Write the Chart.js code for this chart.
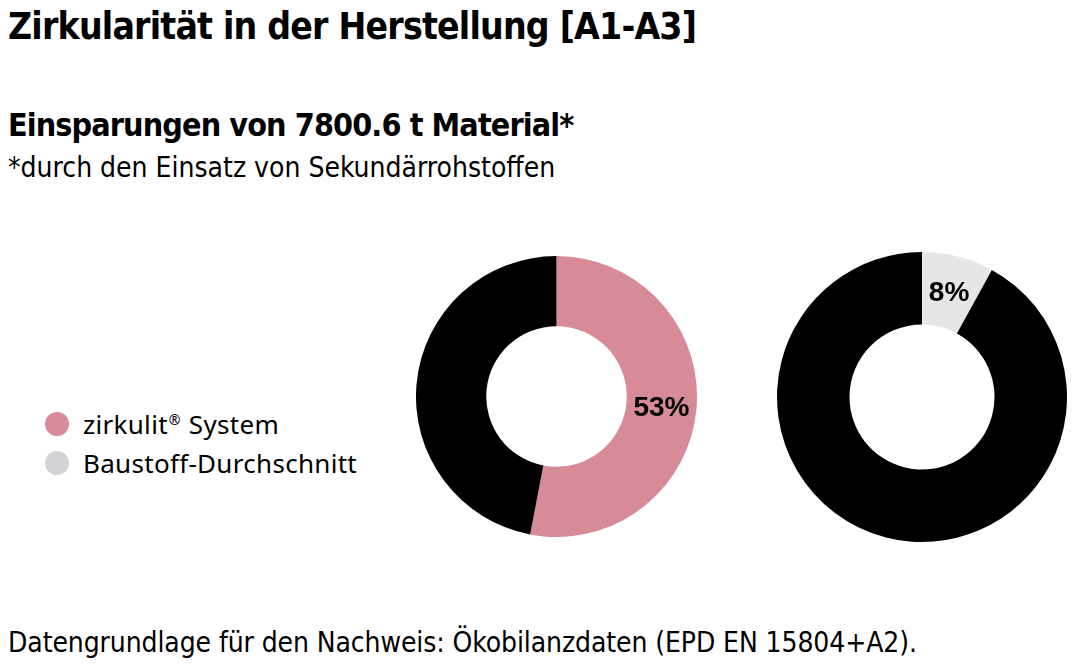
<!DOCTYPE html>
<html>
<head>
<meta charset="utf-8">
<script src="https://cdn.jsdelivr.net/npm/chart.js@4.4.1/dist/chart.umd.min.js"></script>
<style>
  html, body { margin: 0; padding: 0; background: #fff; }
  body { width: 1079px; height: 666px; position: relative; overflow: hidden; color: #000; }
  .txt { position: absolute; left: 8px; white-space: nowrap; font-family: 'DejaVu Sans Condensed', sans-serif; }
  #title { top: 5px; font-size: 37px; font-weight: bold; letter-spacing: -0.8px; }
  #subtitle { top: 106px; font-size: 32px; font-weight: bold; letter-spacing: -0.9px; }
  #note { top: 151px; font-size: 28px; }
  #footer { top: 626px; font-size: 28px; letter-spacing: -0.1px; }
  #legend { position: absolute; left: 45px; top: 404px; font-family: 'Noto Sans', sans-serif; font-size: 26px; letter-spacing: 0.3px; }
  .item { display: flex; align-items: center; height: 39px; }
  .dot { width: 24px; height: 24px; border-radius: 50%; margin-right: 14px; }
  .reg { font-size: 14px; vertical-align: 9px; margin: 0 1px; }
  .box { position: absolute; }
</style>
</head>
<body>
<div class="txt" id="title">Zirkularität in der Herstellung [A1-A3]</div>
<div class="txt" id="subtitle">Einsparungen von 7800.6 t Material*</div>
<div class="txt" id="note">*durch den Einsatz von Sekundärrohstoffen</div>
<div id="legend"></div>
<div class="box" style="left:416px; top:256px; width:281px; height:281px;"><canvas id="zirkulit"></canvas></div>
<div class="box" style="left:777px; top:252px; width:290px; height:290px;"><canvas id="baustoff"></canvas></div>
<div class="txt" id="footer">Datengrundlage für den Nachweis: Ökobilanzdaten (EPD EN 15804+A2).</div>

<script>
const legendLabels = ['zirkulit® System', 'Baustoff-Durchschnitt'];
const legendColors = ['#d68b97', '#d1d3d6'];

const zirkulitLabels = ['Sekundärrohstoffe', 'Primärrohstoffe'];
const zirkulitValues = [53, 47];
const zirkulitColors = ['#d68b97', '#000000'];

const baustoffLabels = ['Sekundärrohstoffe', 'Primärrohstoffe'];
const baustoffValues = [8, 92];
const baustoffColors = ['#e6e6e6', '#000000'];

// legend (® drawn small and raised)
const legend = document.getElementById('legend');
legendLabels.forEach((l, i) => {
  const row = document.createElement('div');
  row.className = 'item';
  const text = l.replace('®', '<span class="reg">®</span>');
  row.innerHTML = '<span class="dot" style="background:' + legendColors[i] + '"></span><span>' + text + '</span>';
  legend.appendChild(row);
});

// percent label on the first slice only
const sliceLabel = {
  id: 'sliceLabel',
  afterDatasetsDraw(chart) {
    const ctx = chart.ctx;
    const arc = chart.getDatasetMeta(0).data[0];
    const pos = arc.tooltipPosition();
    const val = chart.data.datasets[0].data[0];
    ctx.save();
    ctx.font = 'bold 28px "Liberation Sans", Arial, sans-serif';
    ctx.fillStyle = '#000';
    ctx.textAlign = 'center';
    ctx.textBaseline = 'middle';
    ctx.fillText(val + '%', pos.x, pos.y + 2);
    ctx.restore();
  }
};

function donut(id, labels, values, colors) {
  return new Chart(document.getElementById(id), {
    type: 'doughnut',
    data: {
      labels: labels,
      datasets: [{
        data: values,
        backgroundColor: colors,
        borderWidth: 0
      }]
    },
    options: {
      responsive: true,
      maintainAspectRatio: false,
      cutout: '50%',
      animation: false,
      layout: { padding: 0 },
      plugins: {
        legend: { display: false },
        tooltip: { enabled: false }
      }
    },
    plugins: [sliceLabel]
  });
}

donut('zirkulit', zirkulitLabels, zirkulitValues, zirkulitColors);
donut('baustoff', baustoffLabels, baustoffValues, baustoffColors);
</script>
</body>
</html>
